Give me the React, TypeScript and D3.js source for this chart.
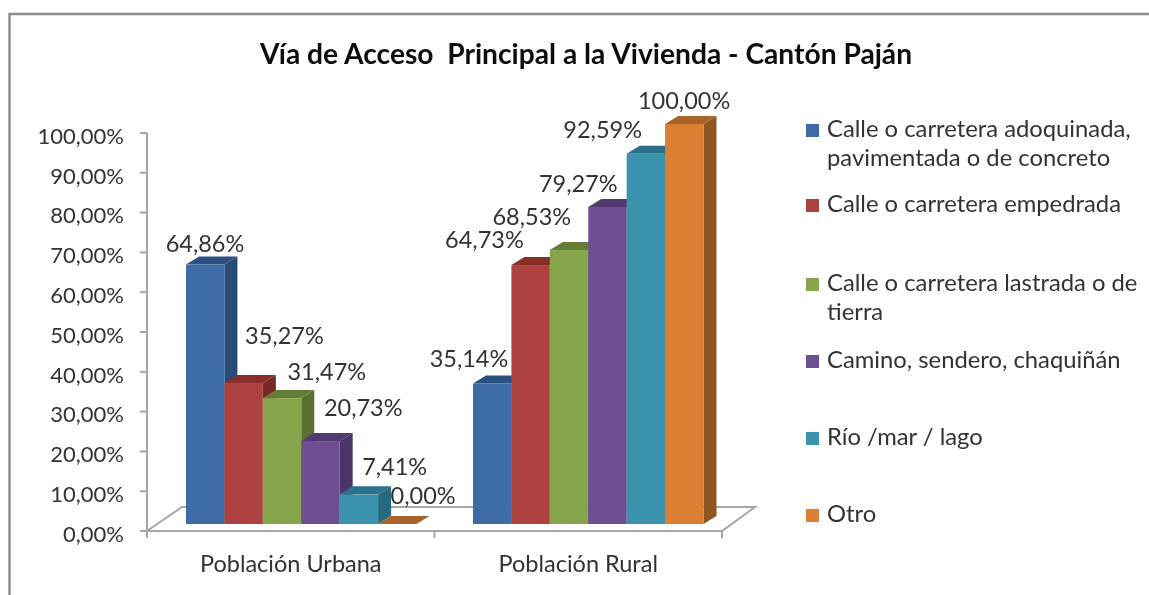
import React from "react";
import * as d3 from "d3";

const title = "Vía de Acceso  Principal a la Vivienda - Cantón Paján";
const categories = ["Población Urbana", "Población Rural"];
const seriesNames = [
  "Calle o carretera adoquinada, pavimentada o de concreto",
  "Calle o carretera empedrada",
  "Calle o carretera lastrada o de tierra",
  "Camino, sendero, chaquiñán",
  "Río /mar / lago",
  "Otro",
];
const urbana = [64.86, 35.27, 31.47, 20.73, 7.41, 0];
const rural = [35.14, 64.73, 68.53, 79.27, 92.59, 100];
const yTicks = [0, 10, 20, 30, 40, 50, 60, 70, 80, 90, 100];

const legendLines = [
  ["Calle o carretera adoquinada,", "pavimentada o de concreto"],
  ["Calle o carretera empedrada"],
  ["Calle o carretera lastrada o de", "tierra"],
  ["Camino, sendero, chaquiñán"],
  ["Río /mar / lago"],
  ["Otro"],
];
const legendY = [129, 204, 283, 360, 437, 514];
const front = ["#3C6CA6", "#AE433F", "#87A64B", "#6E4D92", "#3A93AE", "#DC7F33"];
const top = ["#2A4F80", "#8A2F2C", "#647D36", "#523A72", "#2A7189", "#A9622A"];
const side = ["#2A4B76", "#7A2826", "#5A7030", "#4A3468", "#256A80", "#8F5623"];

// label centre relative to the bar's top-left front corner
const labelOffsetsUrbana = [[19, -21], [60, -47], [64, -26], [62, -33], [55, -28], [45, -28]];
const labelOffsetsRural = [[-4, -25], [-27, -25], [-18, -33], [-10, -23], [-24, -24], [19, -23]];

const fmt = (v: number) => v.toFixed(2).replace(".", ",") + "%";
const FONT = "Lato, 'Open Sans', sans-serif";
const TEXT = "#333";

export default function App() {
  const axisY = d3.scaleLinear().domain([0, 100]).range([531, 133]);
  const barY = d3.scaleLinear().domain([0, 100]).range([524, 124]);
  const xBand = d3.scaleBand<string>().domain(categories).range([147, 722]);
  const inner = d3.scaleBand<number>().domain(d3.range(6)).range([0, 230.5]);
  const groupStart = [186, 473];
  const dx = 13, dy = -8;
  const fx = 35, fy = -24;
  const x0 = 147, x1 = 722, yF = 531;
  const w = inner.bandwidth();

  const bars = [urbana, rural].map((vals, g) => (
    <g key={g}>
      {vals.map((v, i) => {
        const x = groupStart[g] + inner(i)!;
        const yb = barY(0);
        const yt = barY(v);
        return (
          <g key={i}>
            <polygon fill={side[i]} points={`${x + w},${yt} ${x + w + dx},${yt + dy} ${x + w + dx},${yb + dy} ${x + w},${yb}`} />
            <polygon fill={top[i]} points={`${x},${yt} ${x + dx},${yt + dy} ${x + w + dx},${yt + dy} ${x + w},${yt}`} />
            {v > 0 && <rect x={x} y={yt} width={w} height={yb - yt} fill={front[i]} />}
          </g>
        );
      })}
    </g>
  ));

  const labels = [urbana, rural].map((vals, g) =>
    vals.map((v, i) => {
      const off = (g === 0 ? labelOffsetsUrbana : labelOffsetsRural)[i];
      const x = groupStart[g] + inner(i)! + off[0];
      const y = barY(v) + off[1];
      return (
        <text key={`${g}-${i}`} x={x} y={y} dy="0.35em" textAnchor="middle" fontSize={23.5} fill={TEXT}>
          {fmt(v)}
        </text>
      );
    })
  );

  return (
    <svg width={1149} height={595} style={{ position: "absolute", left: 0, top: 0, background: "#fff" }} fontFamily={FONT}>
      <defs>
        <filter id="soft" x="-2%" y="-2%" width="104%" height="104%">
          <feGaussianBlur stdDeviation="0.55" />
        </filter>
      </defs>
      <g filter="url(#soft)">
        <path d="M9.5,595 V14 H1149" fill="none" stroke="#8C8C8C" strokeWidth={2.4} />
        <text x={586} y={54} dy="0.35em" textAnchor="middle" fontSize={28.2} fontWeight={700} fill="#111" xmlSpace="preserve">
          {title}
        </text>

        {/* floor */}
        <polygon points={`${x0},${yF} ${x0 + fx},${yF + fy} ${x1 + fx - 2},${yF + fy} ${x1},${yF}`} fill="#fff" stroke="#A6A6A6" strokeWidth={2} />
        {/* value axis */}
        <line x1={x0} x2={x0} y1={axisY(100)} y2={yF} stroke="#A6A6A6" strokeWidth={2} />
        {yTicks.map((t) => (
          <g key={t}>
            <line x1={x0 - 7} x2={x0} y1={axisY(t)} y2={axisY(t)} stroke="#A6A6A6" strokeWidth={2} />
            <text x={124} y={axisY(t) + 3} dy="0.35em" textAnchor="end" fontSize={22} fill={TEXT}>
              {fmt(t)}
            </text>
          </g>
        ))}
        {/* category axis */}
        {[x0, xBand(categories[1])!, x1].map((x) => (
          <line key={x} x1={x} x2={x} y1={yF} y2={yF + 7} stroke="#A6A6A6" strokeWidth={2} />
        ))}
        {categories.map((c) => (
          <text key={c} x={xBand(c)! + xBand.bandwidth() / 2} y={564} dy="0.35em" textAnchor="middle" fontSize={23.5} fill={TEXT}>
            {c}
          </text>
        ))}

        {bars}
        {labels}

        {/* legend */}
        {seriesNames.map((name, i) => (
          <g key={name}>
            <rect x={806} y={legendY[i] - 5} width={13} height={13} fill={front[i]} />
            <text fontSize={23.8} fill={TEXT}>
              {legendLines[i].map((ln, j) => (
                <tspan key={j} x={827} y={legendY[i] + j * 29} dy="0.35em">
                  {ln}
                </tspan>
              ))}
            </text>
          </g>
        ))}
      </g>
    </svg>
  );
}
